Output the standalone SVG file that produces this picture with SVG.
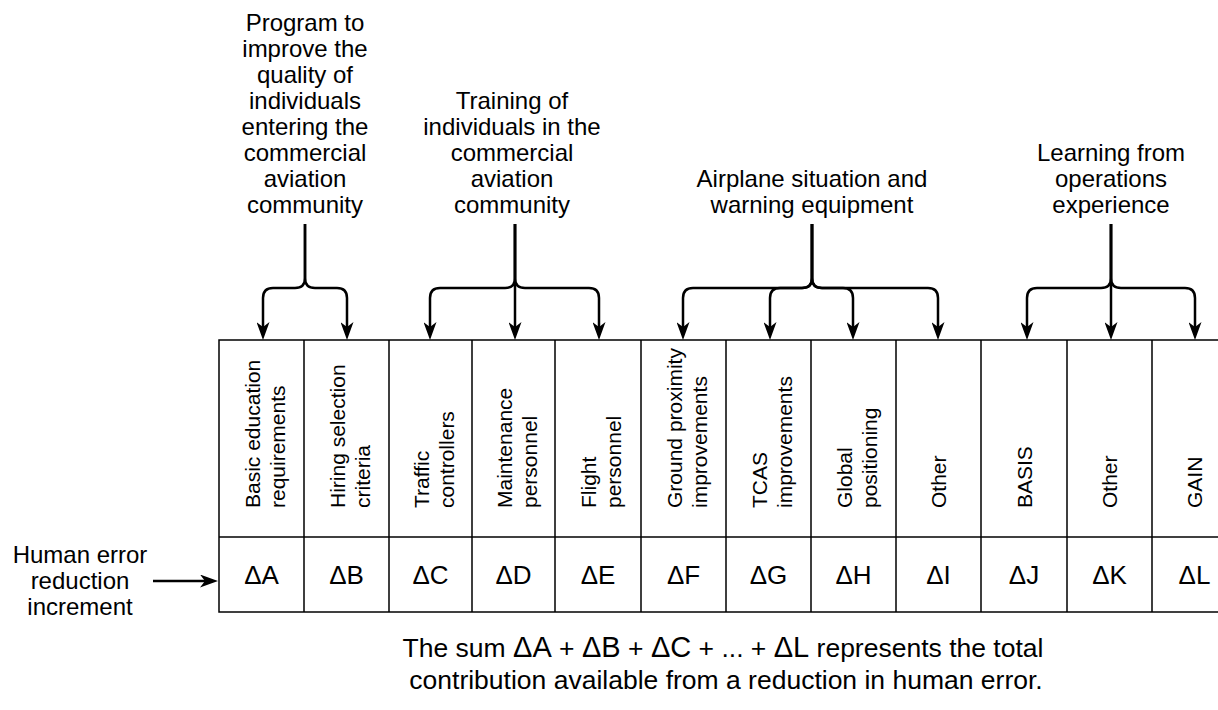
<svg xmlns="http://www.w3.org/2000/svg" width="1218" height="710" viewBox="0 0 1218 710">
  <style>
    text { font-family: "Liberation Sans", Arial, Helvetica, sans-serif; fill: #000; }
    .head { font-size: 24px; text-anchor: middle; }
    .side { font-size: 24px; text-anchor: middle; }
    .vert { font-size: 21px; }
    .delta { font-size: 26px; text-anchor: middle; }
    .note { font-size: 26.5px; text-anchor: middle; }
    .big { font-size: 29px; }
    .cell { fill: #fff; stroke: #000; stroke-width: 1.5; }
    .rule { stroke: #000; stroke-width: 1.5; fill: none; }
    .wire { stroke: #000; stroke-width: 2.5; fill: none; marker-end: url(#head); }
  </style>
  <defs>
    <marker id="head" viewBox="0 0 18 13" refX="13" refY="6.5" markerWidth="18" markerHeight="13" markerUnits="userSpaceOnUse" orient="auto">
      <path d="M0,0 L18,6.5 L0,13 L5,6.5 z" fill="#000"/>
    </marker>
  </defs>
  <rect width="1218" height="710" fill="#fff"/>

  <!-- program headings -->
  <g id="program-quality">
    <text class="head" x="305" y="31">Program to</text>
    <text class="head" x="305" y="57">improve the</text>
    <text class="head" x="305" y="83">quality of</text>
    <text class="head" x="305" y="109">individuals</text>
    <text class="head" x="305" y="135">entering the</text>
    <text class="head" x="305" y="161">commercial</text>
    <text class="head" x="305" y="187">aviation</text>
    <text class="head" x="305" y="213">community</text>
  </g>
  <g id="program-training">
    <text class="head" x="512" y="109">Training of</text>
    <text class="head" x="512" y="135">individuals in the</text>
    <text class="head" x="512" y="161">commercial</text>
    <text class="head" x="512" y="187">aviation</text>
    <text class="head" x="512" y="213">community</text>
  </g>
  <g id="program-equipment">
    <text class="head" x="812" y="187">Airplane situation and</text>
    <text class="head" x="812" y="213">warning equipment</text>
  </g>
  <g id="program-learning">
    <text class="head" x="1111" y="161">Learning from</text>
    <text class="head" x="1111" y="187">operations</text>
    <text class="head" x="1111" y="213">experience</text>
  </g>

  <!-- increment table -->
  <g id="table">
    <rect class="cell" x="219" y="340" width="1020" height="272"/>
    <line class="rule" x1="219" y1="537" x2="1239" y2="537"/>
    <path class="rule" d="M304,340V612 M389,340V612 M472,340V612 M555,340V612 M641,340V612 M726,340V612 M811,340V612 M896,340V612 M981,340V612 M1067,340V612 M1152,340V612"/>
  </g>

  <g id="col-a">
    <text class="vert" transform="translate(259.5,508) rotate(-90)">Basic education</text>
    <text class="vert" transform="translate(284.5,508) rotate(-90)">requirements</text>
    <text class="delta" x="261.5" y="584">ΔA</text>
  </g>
  <g id="col-b">
    <text class="vert" transform="translate(344.5,508) rotate(-90)">Hiring selection</text>
    <text class="vert" transform="translate(369.5,508) rotate(-90)">criteria</text>
    <text class="delta" x="346.5" y="584">ΔB</text>
  </g>
  <g id="col-c">
    <text class="vert" transform="translate(428.5,508) rotate(-90)">Traffic</text>
    <text class="vert" transform="translate(453.5,508) rotate(-90)">controllers</text>
    <text class="delta" x="430.5" y="584">ΔC</text>
  </g>
  <g id="col-d">
    <text class="vert" transform="translate(511.5,508) rotate(-90)">Maintenance</text>
    <text class="vert" transform="translate(536.5,508) rotate(-90)">personnel</text>
    <text class="delta" x="513.5" y="584">ΔD</text>
  </g>
  <g id="col-e">
    <text class="vert" transform="translate(596,508) rotate(-90)">Flight</text>
    <text class="vert" transform="translate(621,508) rotate(-90)">personnel</text>
    <text class="delta" x="598" y="584">ΔE</text>
  </g>
  <g id="col-f">
    <text class="vert" transform="translate(681.5,508) rotate(-90)">Ground proximity</text>
    <text class="vert" transform="translate(706.5,508) rotate(-90)">improvements</text>
    <text class="delta" x="683.5" y="584">ΔF</text>
  </g>
  <g id="col-g">
    <text class="vert" transform="translate(766.5,508) rotate(-90)">TCAS</text>
    <text class="vert" transform="translate(791.5,508) rotate(-90)">improvements</text>
    <text class="delta" x="768.5" y="584">ΔG</text>
  </g>
  <g id="col-h">
    <text class="vert" transform="translate(851.5,508) rotate(-90)">Global</text>
    <text class="vert" transform="translate(876.5,508) rotate(-90)">positioning</text>
    <text class="delta" x="853.5" y="584">ΔH</text>
  </g>
  <g id="col-i">
    <text class="vert" transform="translate(946,508) rotate(-90)">Other</text>
    <text class="delta" x="938.5" y="584">ΔI</text>
  </g>
  <g id="col-j">
    <text class="vert" transform="translate(1031.5,508) rotate(-90)">BASIS</text>
    <text class="delta" x="1024" y="584">ΔJ</text>
  </g>
  <g id="col-k">
    <text class="vert" transform="translate(1117,508) rotate(-90)">Other</text>
    <text class="delta" x="1109.5" y="584">ΔK</text>
  </g>
  <g id="col-l">
    <text class="vert" transform="translate(1202,508) rotate(-90)">GAIN</text>
    <text class="delta" x="1194.5" y="584">ΔL</text>
  </g>

  <g id="increment-label">
    <text class="side" x="80" y="563">Human error</text>
    <text class="side" x="80" y="589">reduction</text>
    <text class="side" x="80" y="615">increment</text>
  </g>

  <g id="sum-note">
    <text class="note" x="723" y="657">The sum <tspan class="big">ΔA</tspan> + <tspan class="big">ΔB</tspan> + <tspan class="big">ΔC</tspan> + ... + <tspan class="big">ΔL</tspan> represents the total</text>
    <text class="note" x="726" y="689">contribution available from a reduction in human error.</text>
  </g>

  <!-- connectors -->
  <g id="connectors">
    <path class="wire" d="M305,224 V278 Q305,288 295,288 H273 Q263,288 263,298 V335"/>
    <path class="wire" d="M305,224 V278 Q305,288 315,288 H337 Q347,288 347,298 V335"/>

    <path class="wire" d="M515,224 V278 Q515,288 505,288 H440 Q430,288 430,298 V335"/>
    <path class="wire" d="M515,224 V335"/>
    <path class="wire" d="M515,224 V278 Q515,288 525,288 H589 Q599,288 599,298 V335"/>

    <path class="wire" d="M812,224 V278 Q812,288 802,288 H693 Q683,288 683,298 V335"/>
    <path class="wire" d="M812,224 V278 Q812,288 802,288 H780 Q770,288 770,298 V335"/>
    <path class="wire" d="M812,224 V278 Q812,288 822,288 H843 Q853,288 853,298 V335"/>
    <path class="wire" d="M812,224 V278 Q812,288 822,288 H928 Q938,288 938,298 V335"/>

    <path class="wire" d="M1111,224 V278 Q1111,288 1101,288 H1037 Q1027,288 1027,298 V335"/>
    <path class="wire" d="M1111,224 V335"/>
    <path class="wire" d="M1111,224 V278 Q1111,288 1121,288 H1185 Q1195,288 1195,298 V335"/>

    <path class="wire" d="M153,581 H213"/>
  </g>
</svg>
